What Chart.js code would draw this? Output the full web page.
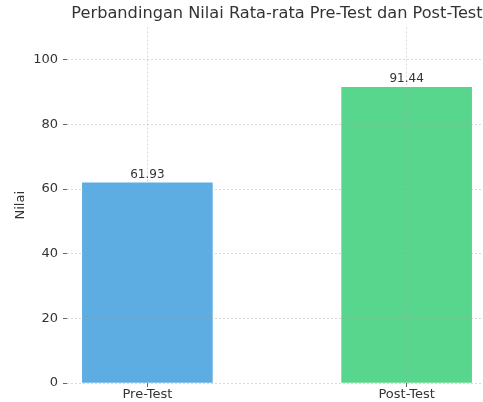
<!DOCTYPE html>
<html>
<head>
<meta charset="utf-8">
<script src="https://cdn.jsdelivr.net/npm/chart.js@4/dist/chart.umd.min.js"></script>
<style>
  html, body { margin: 0; padding: 0; background: #fff; overflow: hidden; }
  #wrap { width: 554px; height: 402px; }
</style>
</head>
<body>
<div id="wrap"><canvas id="chart" width="554" height="402"></canvas></div>
<script>
let categories = ['Pre-Test', 'Post-Test'];
let values = [61.93, 91.44];
let barColors = ['#5DADE2', '#58D68D'];
let yTicks = [0, 20, 40, 60, 80, 100];

// label nilai di atas setiap batang
const valueLabels = {
    id: 'valueLabels',
    afterDatasetsDraw(chart) {
        const ctx = chart.ctx;
        const meta = chart.getDatasetMeta(0);
        ctx.save();
        ctx.font = '12px "DejaVu Sans"';
        ctx.fillStyle = '#333';
        ctx.textAlign = 'center';
        ctx.textBaseline = 'alphabetic';
        meta.data.forEach((bar, i) => {
            ctx.fillText(values[i].toFixed(2), bar.x, bar.y - 5);
        });
        ctx.restore();
    }
};

function initChart() {
    const ctx = document.getElementById('chart').getContext('2d');
    Chart.defaults.font.family = '"DejaVu Sans"';
    Chart.defaults.color = '#333';
    new Chart(ctx, {
        type: 'bar',
        data: {
            datasets: [{
                data: categories.map((c, i) => ({ x: i, y: values[i] })),
                backgroundColor: barColors,
                borderWidth: 0,
                barThickness: 130
            }]
        },
        options: {
            responsive: false,
            animation: false,
            devicePixelRatio: 1,
            layout: { padding: 0 },
            plugins: {
                legend: { display: false },
                tooltip: { enabled: false },
                title: {
                    display: true,
                    text: 'Perbandingan Nilai Rata-rata Pre-Test dan Post-Test',
                    color: '#333',
                    font: { size: 16.2, weight: 'normal' },
                    padding: { top: 4, bottom: 4 }
                }
            },
            scales: {
                x: {
                    type: 'linear',
                    min: -0.31,
                    max: 1.31,
                    offset: false,
                    afterBuildTicks: s => { s.ticks = categories.map((c, i) => ({ value: i })); },
                    afterFit: s => { s.height = 19; },
                    ticks: {
                        callback: v => categories[v],
                        font: { size: 13 },
                        color: '#333',
                        padding: 0,
                        maxRotation: 0
                    },
                    grid: {
                        z: 1,
                        offset: false,
                        color: 'rgba(160,160,160,0.4)',
                        tickLength: 4,
                        tickColor: '#666',
                        tickBorderDash: []
                    },
                    border: { display: false, dash: [2, 2] }
                },
                y: {
                    min: 0,
                    max: 110,
                    afterBuildTicks: s => { s.ticks = yTicks.map(v => ({ value: v })); },
                    afterFit: s => { s.width = 67; },
                    title: {
                        display: true,
                        text: 'Nilai',
                        color: '#333',
                        font: { size: 13 },
                        padding: { top: 13, bottom: 0 }
                    },
                    ticks: {
                        font: { size: 13 },
                        color: '#333',
                        padding: 5
                    },
                    grid: {
                        z: 1,
                        color: 'rgba(160,160,160,0.4)',
                        tickLength: 4,
                        tickColor: '#666',
                        tickBorderDash: []
                    },
                    border: { display: false, dash: [2, 2] }
                },
                // sumbu kosong di kanan supaya judul berada di tengah area plot
                yRight: {
                    position: 'right',
                    min: 0,
                    max: 110,
                    afterFit: s => { s.width = 67; },
                    ticks: { display: false },
                    grid: { display: false },
                    border: { display: false }
                }
            }
        },
        plugins: [valueLabels]
    });
}

initChart();
</script>
</body>
</html>
